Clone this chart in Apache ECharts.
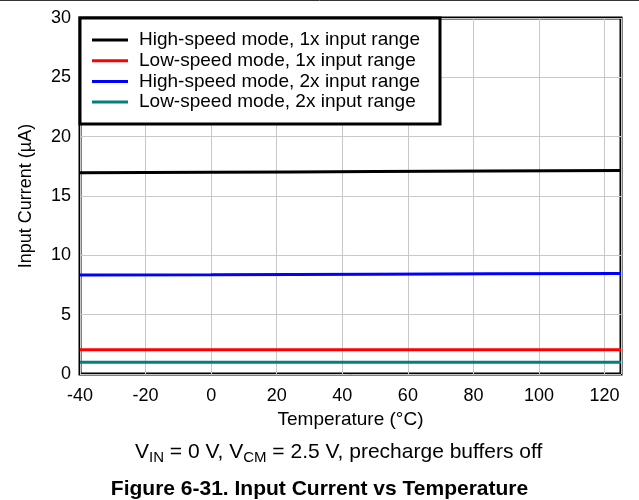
<!DOCTYPE html>
<html>
<head>
<meta charset="utf-8">
<script src="https://cdn.jsdelivr.net/npm/echarts@6/dist/echarts.min.js"></script>
<style>html,body{margin:0;padding:0;background:#fff;}#c{width:639px;height:500px;}</style>
</head>
<body>
<div id="c"></div>
<script>
var temps = [-40, 0, 25, 50, 85, 125];
var hs1x = [16.95, 17.0, 17.03, 17.06, 17.1, 17.15];
var ls1x = [2.05, 2.05, 2.05, 2.05, 2.05, 2.05];
var hs2x = [8.35, 8.37, 8.39, 8.41, 8.44, 8.47];
var ls2x = [1.0, 1.0, 1.0, 1.0, 1.0, 1.0];
var seriesNames = ['High-speed mode, 1x input range','Low-speed mode, 1x input range','High-speed mode, 2x input range','Low-speed mode, 2x input range'];
var seriesColors = ['#000000','#ff0000','#0000ff','#008080'];
var seriesData = [hs1x, ls1x, hs2x, ls2x];
var xTicks = [-40,-20,0,20,40,60,80,100,120];
var yTicks = [0,5,10,15,20,25,30];

var font = 'Liberation Sans, Arial, sans-serif';
var chart = echarts.init(document.getElementById('c'), null, {renderer:'canvas'});
var series = seriesNames.map(function(n,i){
  return {
    name:n, type:'line', showSymbol:false, symbol:'none',
    lineStyle:{color:seriesColors[i], width:3},
    itemStyle:{color:seriesColors[i]},
    data: temps.map(function(t,j){return [t, seriesData[i][j]];}),
    z:3
  };
});
chart.setOption({
  animation:false,
  grid:{left:80, right:18, top:18, bottom:126, show:true, borderColor:'#000', borderWidth:3, containLabel:false},
  xAxis:{
    type:'value', min:-40, max:125, interval:20,
    axisLine:{show:false},
    axisTick:{show:false},
    axisLabel:{fontFamily:font, fontSize:18, color:'#000', margin:13, showMaxLabel:false,
      formatter:function(v){return xTicks.indexOf(v)>=0 ? String(v) : '';}},
    splitLine:{show:true, lineStyle:{color:'#c8c8c8', width:1}},
    name:'Temperature (°C)', nameLocation:'middle', nameGap:35,
    nameTextStyle:{fontFamily:font, fontSize:19, color:'#000'}
  },
  yAxis:{
    type:'value', min:0, max:30, interval:5,
    axisLine:{show:false},
    axisTick:{show:false},
    axisLabel:{fontFamily:font, fontSize:18, color:'#000', margin:9,
      formatter:function(v){return yTicks.indexOf(v)>=0 ? String(v) : '';}},
    splitLine:{show:true, lineStyle:{color:'#c8c8c8', width:1}},
    name:'Input Current (µA)', nameLocation:'middle', nameGap:45,
    nameTextStyle:{fontFamily:font, fontSize:18, color:'#000'}
  },
  legend:{
    show:true, orient:'vertical', left:87, top:24.5, itemGap:-0.3, itemWidth:36, itemHeight:14,
    icon:'path://M0,6 L36,6 L36,9 L0,9 Z',
    textStyle:{fontFamily:font, fontSize:19, lineHeight:21, color:'#000', padding:[0,0,0,6]},
    data:seriesNames.map(function(n,i){return {name:n, itemStyle:{color:seriesColors[i]}};}),
    z:10
  },
  graphic:[
    {type:'line', shape:{x1:0,y1:0.5,x2:639,y2:0.5}, style:{stroke:'#333',lineWidth:1}, z:100},
    {type:'rect', shape:{x:80,y:18,width:360,height:106}, style:{fill:'#fff', stroke:'#000', lineWidth:3}, z:5},
    {type:'text', left:135, top:442, style:{
      text:'V{s|IN} = 0 V, V{s|CM} = 2.5 V, precharge buffers off',
      font:'21px ' + font, fill:'#000',
      rich:{s:{fontSize:15, fontFamily:font, verticalAlign:'bottom', padding:[10,0,0,0]}}
    }},
    {type:'text', left:'center', top:479, style:{
      text:'Figure 6-31. Input Current vs Temperature',
      font:'bold 21px ' + font, fill:'#000'
    }}
  ],
  series:series
});
</script>
</body>
</html>
